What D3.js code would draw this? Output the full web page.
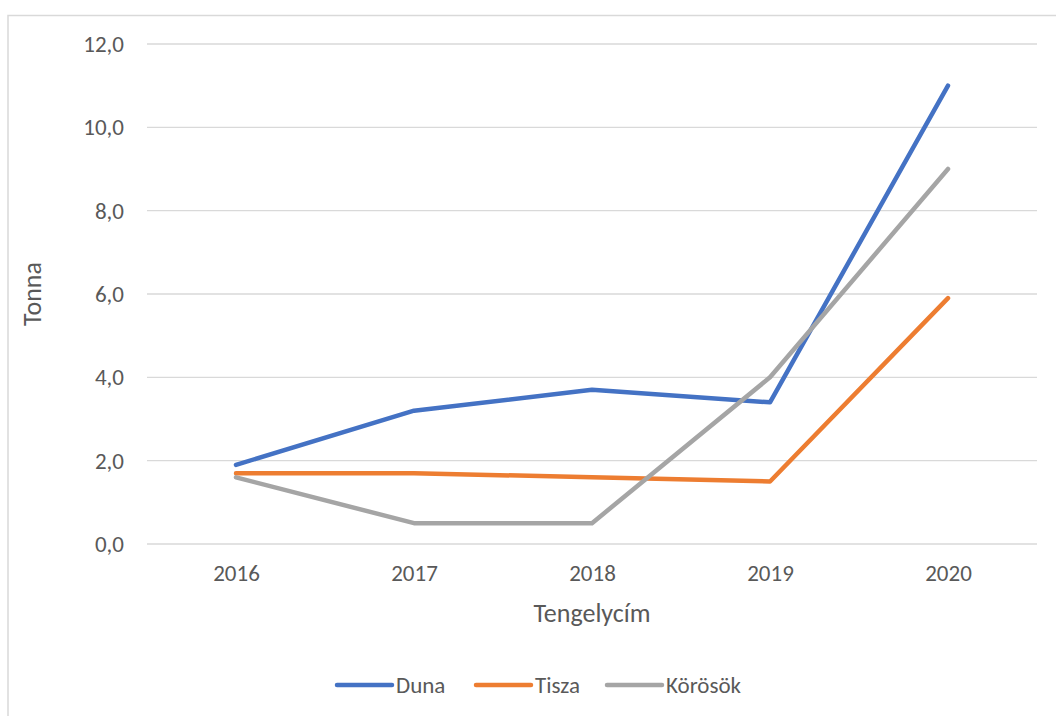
<!DOCTYPE html>
<html>
<head>
<meta charset="utf-8">
<script src="https://cdn.jsdelivr.net/npm/d3@7"></script>
<style>
  body { margin: 0; background: #fff; }
  text { font-family: Calibri, "Open Sans", sans-serif; fill: #595959; }
</style>
</head>
<body>
<div id="chart"></div>
<script>
// chart data
var years = ["2016", "2017", "2018", "2019", "2020"];
var duna = [1.9, 3.2, 3.7, 3.4, 11.0];
var tisza = [1.7, 1.7, 1.6, 1.5, 5.9];
var korosok = [1.6, 0.5, 0.5, 4.0, 9.0];
var yTicks = [0, 2, 4, 6, 8, 10, 12];

var series = [
    {name: "Duna", values: duna, color: "#4472C4"},
    {name: "Tisza", values: tisza, color: "#ED7D31"},
    {name: "Körösök", values: korosok, color: "#A5A5A5"}
];

var width = 1056, height = 716;
var margin = {top: 44, right: 19, bottom: 172, left: 147};
var w = width - margin.left - margin.right;
var h = height - margin.top - margin.bottom;

var svg = d3.select("#chart").append("svg")
    .attr("width", width)
    .attr("height", height);

// outer frame
svg.append("rect")
    .attr("x", 8).attr("y", 15.5)
    .attr("width", 1060).attr("height", 720)
    .attr("fill", "none")
    .attr("stroke", "#D9D9D9")
    .attr("stroke-width", 1.5);

var g = svg.append("g")
    .attr("transform", "translate(" + margin.left + "," + margin.top + ")");

var x = d3.scalePoint().domain(years).range([0, w]).padding(0.5);
var y = d3.scaleLinear().domain([0, 12]).range([h, 0]);

// gridlines
g.selectAll(".grid")
    .data(yTicks)
    .enter()
    .append("line")
    .attr("x1", 0).attr("x2", w)
    .attr("y1", d => y(d)).attr("y2", d => y(d))
    .attr("stroke", "#D9D9D9")
    .attr("stroke-width", 1.3);

var yAxis = d3.axisLeft(y).tickValues(yTicks)
    .tickFormat(d => d3.format(".1f")(d).replace(".", ","))
    .tickSize(0).tickPadding(23);
g.append("g").call(yAxis)
    .call(a => a.select(".domain").remove())
    .selectAll("text").attr("font-size", 23).attr("fill", "#595959");

var xAxis = d3.axisBottom(x).tickSize(0).tickPadding(21);
g.append("g").attr("transform", "translate(0," + h + ")").call(xAxis)
    .call(a => a.select(".domain").remove())
    .selectAll("text").attr("font-size", 23).attr("fill", "#595959");

var line = d3.line()
    .x((d, i) => x(years[i]))
    .y(d => y(d));

g.selectAll(".line")
    .data(series)
    .enter()
    .append("path")
    .attr("class", "line")
    .attr("d", d => line(d.values))
    .attr("fill", "none")
    .attr("stroke", d => d.color)
    .attr("stroke-width", 4.5)
    .attr("stroke-linecap", "round")
    .attr("stroke-linejoin", "round");

// axis titles
svg.append("text")
    .attr("transform", "translate(41," + (margin.top + h / 2) + ") rotate(-90)")
    .attr("text-anchor", "middle")
    .attr("font-size", 26)
    .text("Tonna");

svg.append("text")
    .attr("x", margin.left + w / 2)
    .attr("y", 622)
    .attr("text-anchor", "middle")
    .attr("font-size", 26)
    .text("Tengelycím");

// legend
var legendX = [337, 476, 607];
var leg = svg.selectAll(".legend")
    .data(series)
    .enter()
    .append("g")
    .attr("transform", (d, i) => "translate(" + legendX[i] + ",685)");
leg.append("line")
    .attr("x1", 0).attr("x2", 55)
    .attr("stroke", d => d.color)
    .attr("stroke-width", 4.5)
    .attr("stroke-linecap", "round");
leg.append("text")
    .attr("x", 59).attr("y", 8)
    .attr("font-size", 23)
    .text(d => d.name);
</script>
</body>
</html>
